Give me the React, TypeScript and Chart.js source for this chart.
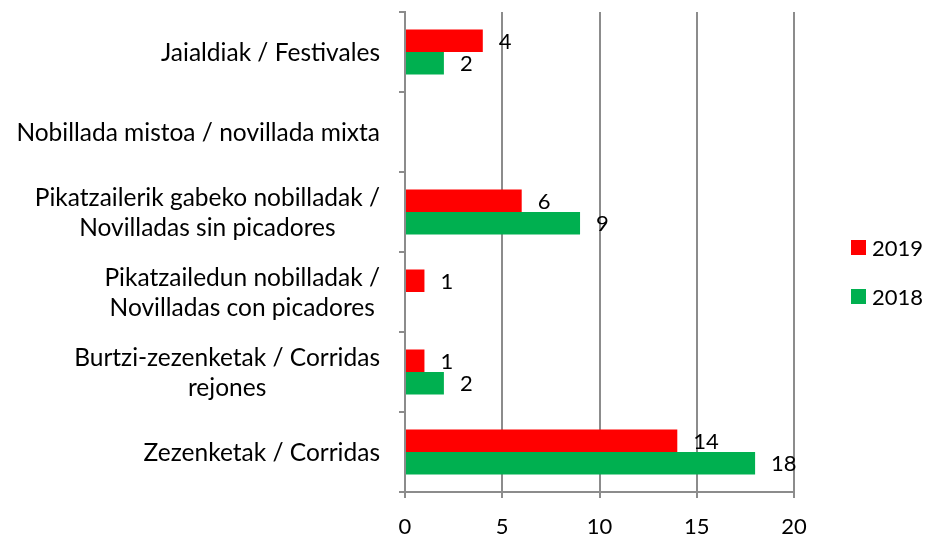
import React, { useEffect, useRef } from "react";
import { Chart, registerables } from "chart.js";

Chart.register(...registerables);

const categories: (string | string[])[] = [
  "Jaialdiak / Festivales",
  "Nobillada mistoa / novillada mixta",
  ["Pikatzailerik gabeko nobilladak /", "Novilladas sin picadores"],
  ["Pikatzailedun nobilladak /", "Novilladas con picadores"],
  ["Burtzi-zezenketak / Corridas", "rejones"],
  "Zezenketak / Corridas",
];

const series2019: (number | null)[] = [4, null, 6, 1, 1, 14];
const series2018: (number | null)[] = [2, null, 9, null, 2, 18];

const xTicks = [0, 5, 10, 15, 20];

const FONT = "Lato, 'Open Sans', sans-serif";
const FONT_SIZE = 22;
const CAT_FONT_SIZE = 24.5;
const GRID = "#8c8c8c";

const valueLabels = {
  id: "valueLabels",
  afterDatasetsDraw(chart: any) {
    const ctx = chart.ctx;
    ctx.save();
    ctx.font = `${FONT_SIZE}px ${FONT}`;
    ctx.fillStyle = "#000";
    ctx.textAlign = "left";
    ctx.textBaseline = "middle";
    chart.data.datasets.forEach((ds: any, di: number) => {
      const meta = chart.getDatasetMeta(di);
      meta.data.forEach((el: any, i: number) => {
        const v = ds.data[i];
        if (v === null || v === undefined) return;
        ctx.fillText(String(v), el.x + 16, el.y + 1);
      });
    });
    ctx.restore();
  },
};

const yLabels = {
  id: "yLabels",
  afterDraw(chart: any) {
    const ctx = chart.ctx;
    const scale = chart.scales.y;
    const lh = 30;
    ctx.save();
    ctx.font = `${CAT_FONT_SIZE}px ${FONT}`;
    ctx.fillStyle = "#000";
    ctx.textAlign = "center";
    ctx.textBaseline = "middle";
    const right = chart.chartArea.left - 25;
    (chart.data.labels as any[]).forEach((lab, i) => {
      const lines: string[] = Array.isArray(lab) ? lab : [lab];
      const w = Math.max(...lines.map((l) => ctx.measureText(l).width));
      const cx = right - w / 2;
      const cy = scale.getPixelForTick(i);
      lines.forEach((l, j) => {
        ctx.fillText(l, cx, cy + (j - (lines.length - 1) / 2) * lh + 1);
      });
    });
    ctx.restore();
  },
};

const customLegend = {
  id: "customLegend",
  afterDraw(chart: any) {
    const ctx = chart.ctx;
    const area = chart.chartArea;
    const x = area.right + 57;
    const midY = (area.top + area.bottom) / 2 + 20;
    const gap = 49;
    const n = chart.data.datasets.length;
    ctx.save();
    ctx.font = `${FONT_SIZE}px ${FONT}`;
    ctx.textAlign = "left";
    ctx.textBaseline = "middle";
    chart.data.datasets.forEach((ds: any, i: number) => {
      const y = midY + (i - (n - 1) / 2) * gap;
      ctx.fillStyle = ds.backgroundColor;
      ctx.fillRect(x, y - 7.5, 15, 15);
      ctx.fillStyle = "#000";
      ctx.fillText(ds.label, x + 21, y + 1);
    });
    ctx.restore();
  },
};

export default function App() {
  const ref = useRef<HTMLCanvasElement>(null);

  useEffect(() => {
    if (!ref.current) return;
    const chart = new Chart(ref.current, {
      type: "bar",
      data: {
        labels: categories as any,
        datasets: [
          {
            label: "2019",
            data: series2019 as any,
            backgroundColor: "#FF0000",
            categoryPercentage: 0.5625,
            barPercentage: 1,
          },
          {
            label: "2018",
            data: series2018 as any,
            backgroundColor: "#00B050",
            categoryPercentage: 0.5625,
            barPercentage: 1,
          },
        ],
      },
      options: {
        indexAxis: "y",
        animation: false,
        responsive: false,
        layout: { padding: { top: 12, right: 134, left: 0, bottom: 0 } },
        plugins: {
          legend: { display: false },
          tooltip: { enabled: false },
        },
        scales: {
          x: {
            min: 0,
            max: 20,
            afterBuildTicks: (scale: any) => {
              scale.ticks = xTicks.map((v) => ({ value: v }));
            },
            afterFit: (scale: any) => {
              scale.height = 45;
            },
            grid: {
              color: GRID,
              lineWidth: 2,
              drawTicks: true,
              tickLength: 6,
              tickColor: GRID,
            },
            border: { color: GRID, width: 2 },
            ticks: {
              color: "#000",
              font: { family: FONT, size: FONT_SIZE },
              padding: 16,
            },
          },
          y: {
            afterFit: (scale: any) => {
              scale.width = 405;
            },
            grid: {
              drawOnChartArea: false,
              drawTicks: true,
              tickLength: 6,
              tickColor: GRID,
              lineWidth: 2,
            },
            border: { color: GRID, width: 2 },
            ticks: { display: false },
          },
        },
      },
      plugins: [valueLabels, yLabels, customLegend],
    });
    return () => chart.destroy();
  }, []);

  return (
    <div style={{ position: "fixed", left: 0, top: 0, width: 928, height: 537, background: "#fff" }}>
      <canvas ref={ref} width={928} height={537} />
    </div>
  );
}
